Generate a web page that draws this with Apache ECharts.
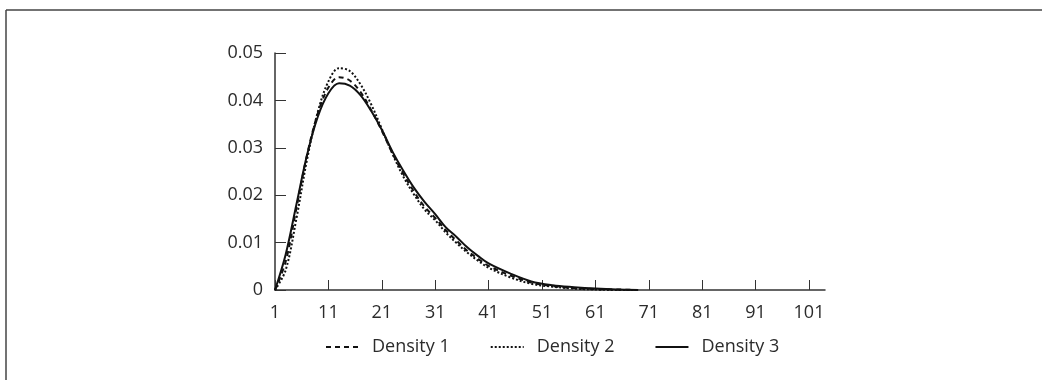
<!DOCTYPE html>
<html>
<head>
<meta charset="utf-8">
<script src="https://cdn.jsdelivr.net/npm/echarts@6/dist/echarts.min.js"></script>
<style>
  html, body { margin: 0; padding: 0; background: #fff; }
  #chart { width: 1042px; height: 380px; }
</style>
</head>
<body>
<div id="chart"></div>
<script>
// values
const xs = [1, 3, 5, 7, 9, 11, 13, 15, 17, 19, 21, 23, 25, 27, 29, 31, 33, 35, 37, 39, 41, 45, 49, 53, 57, 61, 65, 69]
const density1 = [0, 0.0060, 0.0172, 0.0285, 0.0372, 0.0427, 0.0449, 0.0442, 0.0418, 0.0380, 0.0336, 0.0288, 0.0246, 0.0208, 0.0176, 0.0152, 0.0126, 0.0104, 0.0083, 0.0066, 0.0051, 0.0031, 0.0016, 0.0008, 0.0004, 0.0002, 0.0001, 0]
const density2 = [0, 0.0042, 0.0150, 0.0275, 0.0375, 0.0440, 0.0468, 0.0462, 0.0434, 0.0392, 0.0340, 0.0287, 0.0240, 0.0202, 0.0170, 0.0147, 0.0121, 0.0099, 0.0079, 0.0062, 0.0047, 0.0027, 0.0013, 0.0007, 0.0003, 0.0001, 0, 0]
const density3 = [0, 0.0075, 0.0180, 0.0285, 0.0365, 0.0415, 0.0436, 0.0431, 0.0411, 0.0378, 0.0338, 0.0292, 0.0252, 0.0216, 0.0186, 0.0160, 0.0132, 0.0112, 0.0090, 0.0072, 0.0056, 0.0035, 0.0018, 0.0010, 0.0006, 0.0003, 0.0001, 0]
const xTicks = [1, 11, 21, 31, 41, 51, 61, 71, 81, 91, 101]
const names = ['Density 1', 'Density 2', 'Density 3']

const ink = '#2b2b2b'
const font = '"Open Sans", "Noto Sans", sans-serif'

function pairs(ys) {
  return xs.map((x, i) => [x, ys[i]])
}

function line(name, ys, type) {
  return {
    name, type: 'line', smooth: 0.35, symbol: 'none',
    lineStyle: { color: '#111', width: 2, type },
    itemStyle: { color: '#111' },
    data: pairs(ys),
  }
}

const chart = echarts.init(document.getElementById('chart'), null, { renderer: 'canvas' })
chart.setOption({
  animation: false,
  textStyle: { fontFamily: font },
  graphic: [
    { type: 'line', shape: { x1: 6, y1: 10, x2: 1042, y2: 10 }, style: { stroke: '#444', lineWidth: 1.5 } },
    { type: 'line', shape: { x1: 6, y1: 10, x2: 6, y2: 380 }, style: { stroke: '#444', lineWidth: 1.5 } },
  ],
  grid: { left: 275, right: 217, top: 53, bottom: 90 },
  legend: {
    data: names, left: 320, top: 333, itemWidth: 33, itemHeight: 12, itemGap: 40,
    itemStyle: { opacity: 0 },
    textStyle: { fontSize: 18, color: ink, fontFamily: font, padding: [0, 0, 0, 8] },
  },
  xAxis: {
    type: 'value', min: 1, max: 104,
    axisLine: { lineStyle: { color: '#333', width: 1.5 } },
    axisTick: { inside: true, length: 10, customValues: xTicks, lineStyle: { color: '#333' } },
    axisLabel: { customValues: xTicks, fontSize: 18, color: ink, margin: 14, fontFamily: font },
    splitLine: { show: false },
  },
  yAxis: {
    type: 'value', min: 0, max: 0.05, interval: 0.01,
    axisLine: { show: true, lineStyle: { color: '#333', width: 1.5 } },
    axisTick: { show: true, inside: true, length: 11, lineStyle: { color: '#333' } },
    axisLabel: {
      fontSize: 18, color: ink, margin: 12, fontFamily: font,
      formatter: (v) => (v === 0 ? '0' : v.toFixed(2)),
    },
    splitLine: { show: false },
  },
  series: [
    line(names[0], density1, [5, 4]),
    line(names[1], density2, [2, 2]),
    line(names[2], density3, 'solid'),
  ],
})
</script>
</body>
</html>
